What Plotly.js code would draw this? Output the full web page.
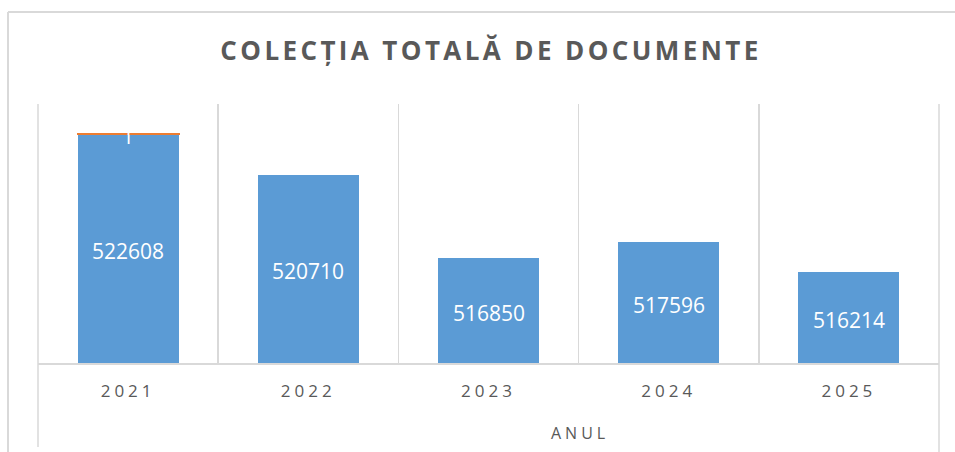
<!DOCTYPE html>
<html>
<head>
<meta charset="utf-8">
<script src="https://cdn.plot.ly/plotly-3.0.1.min.js"></script>
<style>
  html, body { margin: 0; padding: 0; background: #fff; }
  #chart { width: 955px; height: 452px; }
  .gtitle { letter-spacing: 3.4px; }
  .xtick text { letter-spacing: 4px; }
  .annotation[data-index="0"] text { letter-spacing: 4px; }
</style>
</head>
<body>
<div id="chart"></div>
<script>
const years = ['2021', '2022', '2023', '2024', '2025'];
const totalDocs = [522608, 520710, 516850, 517596, 516214];
const extraDocs = [1, null, null, null, null];
const chartTitle = 'COLECȚIA TOTALĂ DE DOCUMENTE';
const axisLabel = 'ANUL';

const blue = '#5B9BD5';
const orange = '#ED7D31';
const grid = '#D9D9D9';
const txt = '#595959';
const font = '"Open Sans", "Noto Sans", sans-serif';
const yMin = 512000, yMax = 524000;

const traces = [
  {
    type: 'bar', x: years, y: totalDocs, name: 'Documente',
    marker: { color: blue, line: { width: 0 } },
    textposition: 'none', hoverinfo: 'x+y'
  },
  {
    type: 'bar', x: years, y: extraDocs, name: 'Altele',
    marker: { color: orange, line: { width: 2, color: orange } },
    textposition: 'none', hoverinfo: 'x+y'
  }
];

const annotations = [{
  text: axisLabel, xref: 'paper', yref: 'paper',
  x: (580 - 38) / 901, y: (363 - 433) / 259,
  xanchor: 'center', yanchor: 'middle', showarrow: false,
  font: { family: font, size: 16, color: txt }
}];

// value labels centred in the visible part of each blue bar (x = category index)
totalDocs.forEach((v, i) => {
  annotations.push({
    text: String(v), x: i, y: (yMin + v) / 2, xref: 'x', yref: 'y',
    xanchor: 'center', yanchor: 'middle', yshift: -2, showarrow: false,
    font: { family: font, size: 21, color: '#FFFFFF' }
  });
});
// labels of the second series, centred on its (very thin) segment
extraDocs.forEach((v, i) => {
  if (v == null) return;
  annotations.push({
    text: String(v), x: i, y: totalDocs[i] + v / 2, xref: 'x', yref: 'y',
    xanchor: 'center', yanchor: 'middle', yshift: -2, showarrow: false,
    font: { family: font, size: 21, color: '#FFFFFF' }
  });
});

const layout = {
  width: 955, height: 452,
  margin: { l: 38, r: 16, t: 104, b: 89 },
  paper_bgcolor: '#FFFFFF', plot_bgcolor: '#FFFFFF',
  barmode: 'stack', bargap: 0.44,
  showlegend: false,
  title: {
    text: '<b>' + chartTitle + '</b>',
    font: { family: font, size: 26, color: txt },
    x: 491 / 955, xanchor: 'center', xref: 'container',
    y: 1 - 51 / 452, yanchor: 'middle', yref: 'container'
  },
  xaxis: {
    type: 'category', range: [-0.5, 4.5],
    showgrid: true, gridcolor: grid, gridwidth: 1.5, tickson: 'boundaries',
    showline: true, linecolor: grid, linewidth: 1.5,
    ticks: '', ticklen: 0, ticklabelstandoff: 12,
    tickfont: { family: font, size: 17, color: txt },
    fixedrange: true
  },
  yaxis: {
    range: [yMin, yMax], showticklabels: false, showgrid: false, zeroline: false,
    showline: false, ticks: '', fixedrange: true
  },
  annotations: annotations,
  shapes: [
    { type: 'line', xref: 'paper', yref: 'paper', x0: -30 / 901, x1: -30 / 901, y0: 1 + 92 / 259, y1: -0.4, line: { color: grid, width: 2 } },
    { type: 'line', xref: 'paper', yref: 'paper', x0: -30 / 901, x1: 1.1, y0: 1 + 92 / 259, y1: 1 + 92 / 259, line: { color: grid, width: 2 } },
    { type: 'line', xref: 'paper', yref: 'paper', x0: 0, x1: 0, y0: 1, y1: (363 - 447) / 259, line: { color: grid, width: 1.5 } },
    { type: 'line', xref: 'paper', yref: 'paper', x0: 1, x1: 1, y0: 1, y1: -0.4, line: { color: grid, width: 1.5 } }
  ]
};

Plotly.newPlot('chart', traces, layout, { displayModeBar: false, staticPlot: true });
</script>
</body>
</html>
